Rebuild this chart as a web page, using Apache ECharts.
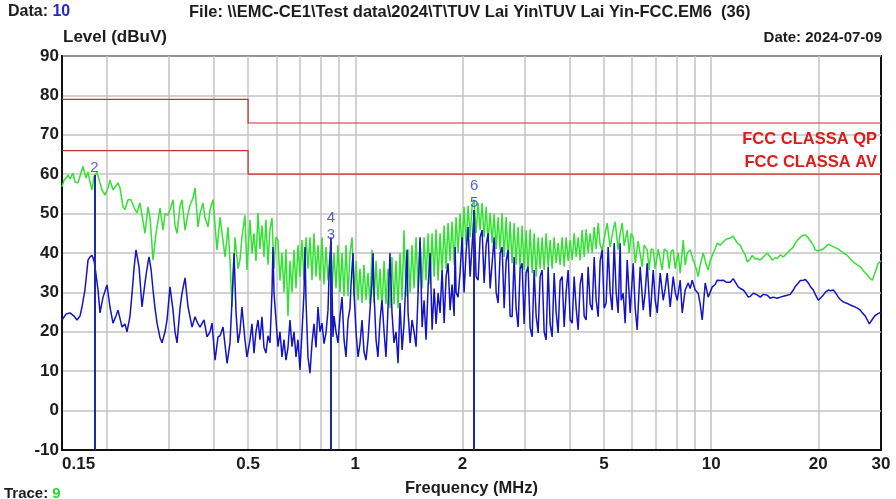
<!DOCTYPE html>
<html>
<head>
    <meta charset="utf-8">
    <title>FCC CLASS A conducted emission</title>
    <style type="text/css">
        * {
            margin: 0;
            padding: 0;
        }
        body {
            background: #fff;
        }
    </style>
</head>
<body>
    <div id="chart" style="width: 896px; height: 499px;"></div>

    <script src="https://cdn.jsdelivr.net/npm/echarts@6.0.0/dist/echarts.min.js"></script>
    <script type="text/javascript">
        // ---- data: [frequency MHz, level dBuV] ----
        var peakTrace = [
            [0.150, 56.8], [0.152, 58.5], [0.154, 59], [0.156, 59.8], [0.158, 58.8], [0.161, 60.3], [0.1632, 58], [0.1664, 57.8],
            [0.1685, 59.5], [0.1718, 62], [0.1752, 59], [0.1775, 60.6], [0.1798, 58], [0.1822, 56], [0.1846, 59.5], [0.1881, 60.5],
            [0.1918, 57.8], [0.1943, 56], [0.1981, 54.7], [0.2020, 56.5], [0.2046, 58.5], [0.2086, 56], [0.2113, 55.5], [0.2155, 57.8],
            [0.2183, 56.5], [0.2226, 51.7], [0.2255, 51], [0.2299, 53.5], [0.2344, 53.5], [0.2406, 51], [0.2437, 50.2], [0.2484, 52.7],
            [0.2533, 48], [0.2566, 45], [0.2616, 51.7], [0.2651, 49], [0.2703, 38.2], [0.2756, 45], [0.2828, 51.4], [0.2884, 45.8],
            [0.2921, 50], [0.2978, 49.6], [0.3017, 51], [0.3076, 53.5], [0.3116, 47], [0.3157, 45], [0.3219, 52], [0.3261, 53.5],
            [0.3325, 45.8], [0.3390, 50], [0.3434, 52.2], [0.3502, 54], [0.3547, 56.5], [0.3616, 46.6], [0.3663, 50], [0.3735, 52.7],
            [0.3783, 49], [0.3858, 46.6], [0.3908, 51], [0.3985, 53.5], [0.4089, 40.8], [0.4170, 49.1], [0.4225, 45], [0.4307, 39],
            [0.4391, 46.6], [0.4448, 38], [0.4506, 26.3], [0.4594, 44], [0.4684, 36], [0.4743, 38.2], [0.4805, 44], [0.4899, 49.6],
            [0.4963, 35.7],
            [0.5061, 48.4], [0.5127, 40], [0.5194, 45], [0.5261, 38], [0.5330, 50.2], [0.5399, 41], [0.5470, 47], [0.5541, 39],
            [0.5613, 48.4], [0.5686, 37], [0.5760, 46], [0.5835, 48.9], [0.5911, 36], [0.5988, 44], [0.6066, 43.3], [0.6145, 33],
            [0.6226, 40], [0.6307, 30], [0.6388, 41], [0.6471, 24], [0.6556, 38], [0.6642, 30], [0.6728, 40.8], [0.6816, 31],
            [0.6904, 42], [0.6994, 34], [0.7086, 43.3], [0.7178, 33], [0.7271, 44], [0.7365, 36], [0.7462, 44], [0.7560, 33.1],
            [0.7658, 45], [0.7758, 34], [0.7858, 42], [0.7961, 33], [0.8065, 44], [0.8170, 32], [0.8276, 41.5], [0.8384, 33],
            [0.8493, 40], [0.8604, 30], [0.8716, 40], [0.8829, 31], [0.8944, 42], [0.9061, 30], [0.9180, 40], [0.9299, 29],
            [0.9420, 42], [0.9542, 29], [0.9667, 40], [0.9794, 44], [0.9921, 29], [1.005, 38], [1.018, 28], [1.031, 36],
            [1.045, 27.3], [1.058, 37], [1.072, 28], [1.086, 35], [1.100, 27], [1.115, 40.8], [1.129, 27.3], [1.144, 38],
            [1.158, 28], [1.174, 36], [1.189, 25.5], [1.205, 38], [1.220, 27], [1.236, 36], [1.252, 26], [1.268, 39],
            [1.285, 27], [1.302, 38], [1.319, 26], [1.336, 40], [1.354, 28], [1.371, 45.8], [1.389, 29], [1.407, 41],
            [1.426, 30], [1.444, 42], [1.463, 31], [1.482, 44], [1.502, 30], [1.521, 43], [1.541, 31], [1.561, 44],
            [1.581, 33], [1.602, 45], [1.623, 32], [1.644, 45], [1.666, 34], [1.687, 46], [1.709, 33], [1.731, 45],
            [1.754, 35], [1.777, 47], [1.800, 36], [1.823, 47.6], [1.847, 38], [1.871, 48], [1.896, 37], [1.920, 49.1],
            [1.945, 40], [1.970, 50], [1.996, 41], [2.022, 51.7], [2.048, 42], [2.075, 52], [2.102, 44], [2.130, 52],
            [2.157, 53.5], [2.185, 45], [2.214, 52.7], [2.243, 45.8], [2.272, 52.7], [2.302, 44], [2.332, 51.7], [2.362, 43],
            [2.393, 50.2], [2.424, 42.5], [2.456, 50], [2.488, 41], [2.520, 49.1], [2.553, 40.8], [2.586, 50.2], [2.620, 39],
            [2.654, 49.1], [2.689, 38.2], [2.723, 48], [2.759, 37.4], [2.795, 47.6], [2.831, 37], [2.868, 46.6], [2.905, 36],
            [2.943, 47], [2.981, 35.7], [3.020, 45.8], [3.059, 35], [3.100, 46], [3.141, 34.9], [3.181, 45], [3.223, 34],
            [3.265, 44], [3.307, 36], [3.350, 44], [3.394, 35.7], [3.438, 45], [3.483, 36.5], [3.528, 43.3], [3.574, 36],
            [3.621, 44], [3.668, 37.4], [3.715, 42.5], [3.764, 37], [3.813, 44], [3.863, 36.5], [3.913, 44], [3.964, 38],
            [4.016, 43.3], [4.069, 38.2], [4.121, 45], [4.175, 39], [4.229, 44], [4.284, 38.2], [4.340, 45.8], [4.397, 39],
            [4.454, 46], [4.512, 40], [4.571, 45], [4.631, 40], [4.691, 46.6], [4.752, 41], [4.814, 47.6], [4.876, 42],
            [4.940, 40.8], [5.036, 45],
            [5.102, 47.6], [5.202, 41.5], [5.305, 46], [5.373, 47.9], [5.478, 40.8], [5.550, 45], [5.623, 47.6], [5.696, 41.8],
            [5.808, 45.8], [5.883, 40], [5.960, 45], [6.038, 44], [6.116, 37.4], [6.236, 43], [6.317, 42.5], [6.400, 36.5],
            [6.483, 42], [6.610, 40.8], [6.696, 35.7], [6.784, 41], [6.873, 40.8], [6.962, 36], [7.098, 41], [7.190, 40.8],
            [7.284, 35.7], [7.379, 41], [7.524, 40.5], [7.621, 36], [7.721, 40.5], [7.822, 40.8], [7.923, 36], [8.078, 40],
            [8.184, 34.9], [8.345, 43.3], [8.453, 37], [8.564, 40], [8.731, 40.8], [8.903, 38.2], [9.077, 36], [9.195, 34],
            [9.315, 37], [9.499, 40], [9.684, 37], [9.810, 35.7], [9.938, 38], [10.13, 40], [10.26, 41], [10.40, 42.5],
            [10.60, 42], [10.81, 42.8], [11.02, 43.5], [11.31, 43.8], [11.53, 44.3], [11.68, 44.6], [11.84, 42.5], [12.07, 42],
            [12.23, 40.8], [12.47, 39.5], [12.63, 37.7], [12.88, 38.5], [13.05, 39.4], [13.30, 38.5], [13.48, 38.6], [13.74, 38.2],
            [14.01, 39], [14.38, 40], [14.65, 39], [14.84, 38.2], [15.13, 38.8], [15.33, 38.6], [15.63, 39.5], [15.94, 39],
            [16.36, 40], [16.68, 40.8], [17.01, 41.5], [17.23, 42.5], [17.57, 43.5], [17.80, 44], [18.15, 44.5], [18.39, 44.6],
            [18.75, 43.8], [18.99, 43.8], [19.36, 42], [19.61, 40.8], [20.00, 40.5], [20.25, 40], [20.65, 41], [20.92, 41.5],
            [21.33, 42.2], [21.61, 42], [22.04, 41.6], [22.32, 41.5], [22.76, 41], [23.05, 40.8], [23.51, 40], [24.12, 39.4],
            [24.60, 38.5], [25.08, 37.7], [25.74, 37], [26.24, 36.5], [26.76, 35.5], [27.46, 34.4], [27.99, 33.5], [28.36, 33.1],
            [28.91, 35.2], [29.48, 37.4], [30.0, 38]
        ];

        var avgTrace = [
            [0.150, 23], [0.151, 23.5], [0.154, 24.5], [0.158, 24.8], [0.1621, 24], [0.1653, 23], [0.1685, 24], [0.1707, 26.3],
            [0.1740, 30.6], [0.1775, 38.2], [0.1798, 39], [0.1822, 39.4], [0.1846, 38], [0.1857, 36.5], [0.1894, 30.6], [0.1918, 24.8],
            [0.1956, 28.8], [0.2007, 31.9], [0.2046, 26.3], [0.2086, 22.2], [0.2127, 24], [0.2155, 25.5], [0.2212, 21.2], [0.2255, 22],
            [0.2284, 20], [0.2329, 24], [0.2360, 29.8], [0.2390, 36], [0.2421, 40.8], [0.2469, 36.5], [0.2517, 26.3], [0.2566, 32.4],
            [0.2599, 36], [0.2633, 39], [0.2668, 36], [0.2703, 30.6], [0.2738, 26], [0.2774, 22.2], [0.2828, 18.5], [0.2865, 17.2],
            [0.2921, 20], [0.2959, 23], [0.3017, 31.4], [0.3076, 25.5], [0.3116, 20], [0.3157, 17.2], [0.3219, 26], [0.3261, 29.8],
            [0.3325, 33.7], [0.3390, 26.3], [0.3479, 21.2], [0.3547, 23.8], [0.3616, 22], [0.3663, 21.2], [0.3759, 23], [0.3833, 18.7],
            [0.3908, 20], [0.3959, 22.2], [0.4037, 12.8], [0.4116, 18.7], [0.4170, 19], [0.4252, 21.2], [0.4364, 12], [0.4448, 17.2],
            [0.4506, 28], [0.4565, 40], [0.4624, 25], [0.4684, 17.2], [0.4743, 20], [0.4805, 26.3], [0.4899, 18], [0.4963, 13.6],
            [0.5061, 17.9], [0.5127, 22], [0.5194, 14.6], [0.5261, 20], [0.5330, 23], [0.5399, 18], [0.5470, 23.8], [0.5541, 16],
            [0.5613, 14.6], [0.5686, 19], [0.5760, 17.2], [0.5835, 30], [0.5873, 41.5], [0.5911, 30], [0.5988, 23], [0.6066, 16.2],
            [0.6145, 20], [0.6226, 13.6], [0.6307, 18], [0.6388, 12.8], [0.6471, 16], [0.6556, 23], [0.6642, 16.2], [0.6728, 20],
            [0.6816, 13.6], [0.6904, 18], [0.6994, 10.3], [0.7086, 20], [0.7178, 30], [0.7224, 41.5], [0.7271, 28], [0.7365, 13.6],
            [0.7462, 9.5], [0.7560, 17.2], [0.7658, 22], [0.7758, 16], [0.7858, 26.3], [0.7961, 20], [0.8065, 22.2], [0.8170, 17],
            [0.8276, 19.7], [0.8384, 25.5], [0.8439, 34], [0.8548, 44], [0.8660, 18.7], [0.8716, 24], [0.8829, 20], [0.8944, 17.2],
            [0.9061, 24], [0.9180, 28.8], [0.9299, 18], [0.9420, 13.6], [0.9542, 23], [0.9667, 26], [0.9730, 32], [0.9858, 40],
            [0.9921, 30], [1.005, 20], [1.018, 13.6], [1.031, 17], [1.045, 23], [1.058, 15], [1.072, 12.8], [1.086, 18],
            [1.100, 25.5], [1.115, 33], [1.122, 40], [1.129, 30], [1.144, 18], [1.158, 13.6], [1.174, 23], [1.189, 28],
            [1.205, 20], [1.220, 13.6], [1.236, 26], [1.252, 40], [1.268, 25], [1.285, 17.2], [1.302, 20], [1.319, 12],
            [1.336, 27.3], [1.354, 15.4], [1.371, 22], [1.380, 28], [1.398, 40.8], [1.407, 25], [1.426, 17.2], [1.444, 23],
            [1.463, 20], [1.482, 16.2], [1.502, 30], [1.521, 44], [1.541, 21.2], [1.561, 28], [1.581, 18], [1.602, 31.4],
            [1.623, 40], [1.644, 20.5], [1.666, 31], [1.687, 22], [1.709, 29.8], [1.731, 24.8], [1.754, 35.7], [1.777, 22.2],
            [1.800, 34], [1.823, 37.4], [1.847, 25.5], [1.871, 32], [1.896, 24], [1.908, 41.5], [1.920, 30], [1.945, 28.8],
            [1.970, 35], [1.996, 44], [2.022, 30], [2.048, 40], [2.075, 46.6], [2.102, 34], [2.130, 42], [2.157, 50.2],
            [2.185, 34], [2.214, 33.1], [2.243, 44], [2.272, 45.8], [2.302, 32.4], [2.332, 42], [2.362, 45], [2.393, 31],
            [2.424, 30.6], [2.456, 44], [2.488, 30], [2.520, 27.3], [2.553, 40], [2.586, 41.5], [2.620, 26], [2.654, 38],
            [2.689, 40.8], [2.723, 24], [2.759, 23.8], [2.795, 39], [2.831, 26], [2.868, 21.2], [2.905, 36], [2.943, 37.4],
            [2.981, 22], [3.020, 35], [3.059, 36.5], [3.100, 21], [3.141, 18.7], [3.181, 35.7], [3.223, 24], [3.265, 19.7],
            [3.307, 34], [3.350, 35.7], [3.394, 20], [3.438, 17.9], [3.483, 36.5], [3.528, 22], [3.574, 18.7], [3.621, 34.9],
            [3.668, 25], [3.715, 19.7], [3.764, 33], [3.813, 34], [3.863, 21.2], [3.913, 30], [3.964, 35.7], [4.016, 23],
            [4.069, 22.2], [4.121, 34], [4.175, 26], [4.229, 20.5], [4.284, 32], [4.340, 34.9], [4.397, 24], [4.454, 23],
            [4.512, 36.5], [4.571, 27], [4.631, 25.5], [4.691, 39], [4.752, 28], [4.814, 23.8], [4.876, 38], [4.940, 40.8],
            [5.004, 26], [5.069, 27.3], [5.135, 41.5], [5.202, 30], [5.270, 25.5], [5.339, 42.5], [5.408, 30], [5.478, 24.8],
            [5.550, 42.5],
            [5.586, 28], [5.659, 29.8], [5.733, 22.2], [5.808, 38.2], [5.921, 24.8], [6.038, 37.4], [6.116, 26],
            [6.196, 20.5], [6.317, 36.5], [6.442, 25.5], [6.525, 30], [6.610, 37.4], [6.740, 23.8], [6.873, 35.7], [6.962, 28],
            [7.053, 24.8], [7.190, 34.9], [7.332, 28], [7.427, 31], [7.524, 34.9], [7.671, 26.3], [7.822, 34], [7.923, 30],
            [8.027, 28], [8.184, 33.1], [8.291, 24.8], [8.453, 30.6], [8.619, 32.4], [8.731, 31], [8.845, 33.1], [9.018, 30.6],
            [9.195, 29.8], [9.315, 27], [9.437, 23], [9.621, 32.4], [9.810, 28.8], [10.07, 31.4], [10.26, 32], [10.40, 33.1],
            [10.60, 33], [10.81, 33.1], [11.02, 32.6], [11.31, 32.6], [11.53, 33.5], [11.68, 33.1], [11.91, 31.4], [12.07, 31],
            [12.31, 30.6], [12.47, 30], [12.71, 28.8], [12.88, 29], [13.13, 29.8], [13.39, 29.5], [13.74, 28.8], [14.01, 29.5],
            [14.38, 29.3], [14.65, 28.5], [14.94, 28.8], [15.33, 28.5], [15.63, 28.8], [15.94, 29], [16.36, 29.3], [16.68, 29.5],
            [17.01, 30.6], [17.23, 31.5], [17.57, 32.4], [17.80, 33], [18.15, 33.1], [18.39, 33.3], [18.75, 32.4], [18.99, 31.5],
            [19.36, 30.6], [19.61, 29.5], [20.00, 28], [20.25, 28.5], [20.65, 29.3], [20.92, 30], [21.33, 30.6], [21.61, 30.4],
            [22.04, 30.6], [22.32, 30], [22.76, 28.8], [23.05, 28.2], [23.51, 27.6], [24.12, 27.2], [24.60, 26.8], [25.08, 26.5],
            [25.74, 26], [26.24, 25.5], [26.58, 24.8], [27.10, 24], [27.46, 23], [27.81, 22], [28.17, 21.7], [28.54, 23.5],
            [28.91, 24.2], [29.29, 24.5], [29.67, 24.8], [30.0, 25]
        ];

        // FCC class A limits (stepped at 0.5 MHz)
        var qpLimit = [[0.15, 79], [0.5, 79], [0.5, 73], [30, 73]];
        var avLimit = [[0.15, 66], [0.5, 66], [0.5, 60], [30, 60]];

        // markers
        var markerNames = ['2', '3', '4', '5', '6'];
        var markerFreqs = [0.185, 0.855, 0.855, 2.157, 2.157];
        var markerLevels = [59.8, 42.8, 47, 50.9, 55.2];

        // axis ticks
        var xLabelValues = [0.15, 0.5, 1, 2, 5, 10, 20, 30];
        var xGridValues = [0.2, 0.3, 0.4, 0.5, 0.6, 0.7, 0.8, 0.9, 1, 2, 3, 4, 5, 6, 7, 8, 9, 10, 20];
        var yMin = -10, yMax = 90, yStep = 10;

        var TXT = '#1c1c1c';
        var FONT = '"Liberation Sans", Arial, sans-serif';

        // vertical marker lines: from the lowest marker at a frequency down to the axis
        var markerLines = [];
        markerFreqs.forEach(function (f, i) {
            var lows = markerLevels.filter(function (v, j) { return markerFreqs[j] === f; });
            var low = Math.min.apply(null, lows);
            if (markerLevels[i] === low) {
                markerLines.push([{ coord: [f, low] }, { coord: [f, yMin] }]);
            }
        });

        function head(text, pos, size, color) {
            var t = {
                text: text,
                padding: 0,
                textStyle: {
                    fontFamily: FONT, fontSize: size, fontWeight: 'bold', color: color || TXT,
                    rich: {
                        b: { fontFamily: FONT, fontSize: size, fontWeight: 'bold', color: '#2626c4' },
                        g: { fontFamily: FONT, fontSize: size, fontWeight: 'bold', color: '#2ed42e' }
                    }
                }
            };
            for (var k in pos) t[k] = pos[k];
            return t;
        }

        var chart = echarts.init(document.getElementById('chart'));

        var option = {
            animation: false,
            backgroundColor: '#fff',
            title: [
                head('Data: {b|10}', { left: 8, top: 4 }, 16),
                head('File: \\\\EMC-CE1\\Test data\\2024\\T\\TUV Lai Yin\\TUV Lai Yin-FCC.EM6  (36)', { left: 189, top: 4 }, 16.5),
                head('Level (dBuV)', { left: 63, top: 29 }, 17),
                head('Date: 2024-07-09', { right: 14, top: 30 }, 15),
                head('FCC CLASSA QP', { right: 19, top: 131 }, 16.5, '#dd1c1c'),
                head('FCC CLASSA AV', { right: 19, top: 154 }, 16.5, '#dd1c1c'),
                head('Trace: {g|9}', { left: 4, top: 486 }, 15)
            ],
            grid: {
                left: 62,
                right: 15,
                top: 56,
                bottom: 49,
                outerBoundsMode: 'none',
                show: true,
                borderColor: '#111',
                borderWidth: 2
            },
            xAxis: {
                type: 'log',
                logBase: 10,
                min: 0.15,
                max: 30,
                name: 'Frequency (MHz)',
                nameLocation: 'middle',
                nameGap: 30,
                nameTextStyle: { fontFamily: FONT, fontSize: 16.5, fontWeight: 'bold', color: TXT },
                axisLine: { show: true, onZero: false, lineStyle: { color: '#111', width: 2 } },
                axisTick: { show: false, customValues: xGridValues },
                axisLabel: {
                    customValues: xLabelValues,
                    alignMinLabel: 'left',
                    margin: 6,
                    fontFamily: FONT,
                    fontSize: 17,
                    fontWeight: 'bold',
                    color: TXT,
                    formatter: function (v) { return String(+(+v).toPrecision(3)); }
                },
                splitLine: { show: true, lineStyle: { color: '#c3c3c3', width: 1.5 } }
            },
            yAxis: {
                type: 'value',
                min: yMin,
                max: yMax,
                interval: yStep,
                axisLine: { show: true, lineStyle: { color: '#111', width: 2 } },
                axisTick: { show: false },
                axisLabel: {
                    margin: 3,
                    fontFamily: FONT,
                    fontSize: 17,
                    fontWeight: 'bold',
                    color: TXT
                },
                splitLine: { show: true, lineStyle: { color: '#c3c3c3', width: 1.5 } }
            },
            series: [
                {
                    name: 'QP limit',
                    type: 'line',
                    data: qpLimit,
                    symbol: 'none',
                    silent: true,
                    lineStyle: { color: '#c83030', width: 1.2 }
                },
                {
                    name: 'AV limit',
                    type: 'line',
                    data: avLimit,
                    symbol: 'none',
                    silent: true,
                    lineStyle: { color: '#c83030', width: 1.2 }
                },
                {
                    name: 'Peak',
                    type: 'line',
                    data: peakTrace,
                    symbol: 'none',
                    lineStyle: { color: '#35e035', width: 1.5 }
                },
                {
                    name: 'Average',
                    type: 'line',
                    data: avgTrace,
                    symbol: 'none',
                    lineStyle: { color: '#1414c4', width: 1.5 }
                },
                {
                    name: 'Markers',
                    type: 'scatter',
                    symbolSize: 0,
                    data: markerNames.map(function (n, i) {
                        return { name: n, value: [markerFreqs[i], markerLevels[i]] };
                    }),
                    label: {
                        show: true,
                        position: 'top',
                        distance: 0,
                        formatter: '{b}',
                        fontFamily: FONT,
                        fontSize: 15,
                        color: '#2a38c8'
                    },
                    markLine: {
                        silent: true,
                        symbol: 'none',
                        label: { show: false },
                        lineStyle: { color: '#1e28a8', width: 2, type: 'solid' },
                        data: markerLines
                    },
                    z: 5
                }
            ]
        };

        chart.setOption(option);
    </script>
</body>
</html>
